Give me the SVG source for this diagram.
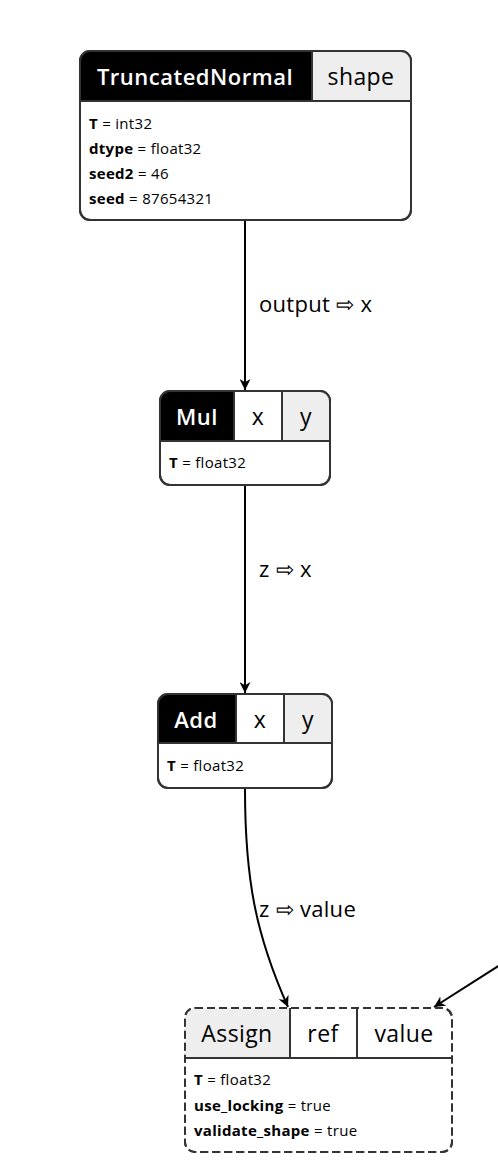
<svg xmlns="http://www.w3.org/2000/svg" width="498" height="1173" viewBox="0 0 498 1173">
<style>
.box{fill:#fff;stroke:#333;stroke-width:2}
.dash{stroke-dasharray:8,4}
.div{stroke:#333;stroke-width:2;fill:none}
.op{font-family:"Open Sans",sans-serif;font-size:22px;font-weight:600;fill:#fff;text-anchor:middle;letter-spacing:0.5px}
.opg{font-family:"Open Sans",sans-serif;font-size:23px;fill:#000;text-anchor:middle;letter-spacing:0.4px}
.port{font-family:"Open Sans",sans-serif;font-size:23px;fill:#000;text-anchor:middle;letter-spacing:0.4px}
.attr{font-family:"Open Sans",sans-serif;font-size:15px;fill:#000;letter-spacing:0.3px}
.attr tspan.k{font-weight:bold}
.lbl{font-family:"Open Sans",sans-serif;font-size:22px;fill:#000;letter-spacing:0.3px}
.edge{fill:none;stroke:#000;stroke-width:2}
</style>
<defs>
<marker id="arr" viewBox="0 0 10 10" refX="10" refY="5" markerWidth="11" markerHeight="11" orient="auto" markerUnits="userSpaceOnUse">
<path d="M0,0 L10,5 L0,10 L3,5 z" fill="#000"/>
</marker>
<clipPath id="c1"><rect x="80" y="51" width="331" height="169" rx="10"/></clipPath>
<clipPath id="c2"><rect x="160" y="391" width="170" height="94" rx="10"/></clipPath>
<clipPath id="c3"><rect x="158" y="694" width="174" height="94" rx="10"/></clipPath>
<clipPath id="c4"><rect x="185" y="1008" width="267" height="144" rx="10"/></clipPath>
</defs>

<g id="edges">
<path class="edge" d="M245,221 L245,390" marker-end="url(#arr)"/>
<text class="lbl" x="259" y="312">output ⇨ x</text>
<path class="edge" d="M245,486 L245,693" marker-end="url(#arr)"/>
<text class="lbl" x="259" y="577">z ⇨ x</text>
<path class="edge" d="M245,789 C245,880 256,935 288,1007" marker-end="url(#arr)"/>
<text class="lbl" x="259" y="917">z ⇨ value</text>
<path class="edge" d="M500,965 L434,1007" marker-end="url(#arr)"/>
</g>

<g id="TruncatedNormal">
<rect class="box" x="80" y="51" width="331" height="169" rx="10"/>
<g clip-path="url(#c1)">
<rect x="80" y="51" width="232" height="50" fill="#000"/>
<rect x="312" y="51" width="99" height="50" fill="#eee"/>
</g>
<path class="div" d="M312,51 V101 M80,101 H411"/>
<rect x="80" y="51" width="331" height="169" rx="10" fill="none" stroke="#333" stroke-width="2"/>
<text class="op" x="195" y="85">TruncatedNormal</text>
<text class="port" x="361" y="85">shape</text>
<text class="attr" x="89" y="129"><tspan class="k">T</tspan> = int32</text>
<text class="attr" x="89" y="154"><tspan class="k">dtype</tspan> = float32</text>
<text class="attr" x="89" y="179"><tspan class="k">seed2</tspan> = 46</text>
<text class="attr" x="89" y="204"><tspan class="k">seed</tspan> = 87654321</text>
</g>

<g id="Mul">
<rect class="box" x="160" y="391" width="170" height="94" rx="10"/>
<g clip-path="url(#c2)">
<rect x="160" y="391" width="74" height="50" fill="#000"/>
<rect x="282" y="391" width="48" height="50" fill="#eee"/>
</g>
<path class="div" d="M234,391 V441 M282,391 V441 M160,441 H330"/>
<rect x="160" y="391" width="170" height="94" rx="10" fill="none" stroke="#333" stroke-width="2"/>
<text class="op" x="197" y="425">Mul</text>
<text class="port" x="258" y="425">x</text>
<text class="port" x="306" y="425">y</text>
<text class="attr" x="169" y="468"><tspan class="k">T</tspan> = float32</text>
</g>

<g id="Add">
<rect class="box" x="158" y="694" width="174" height="94" rx="10"/>
<g clip-path="url(#c3)">
<rect x="158" y="694" width="78" height="49" fill="#000"/>
<rect x="284" y="694" width="48" height="49" fill="#eee"/>
</g>
<path class="div" d="M236,694 V743 M284,694 V743 M158,743 H332"/>
<rect x="158" y="694" width="174" height="94" rx="10" fill="none" stroke="#333" stroke-width="2"/>
<text class="op" x="196" y="728">Add</text>
<text class="port" x="260" y="728">x</text>
<text class="port" x="308" y="728">y</text>
<text class="attr" x="167" y="771"><tspan class="k">T</tspan> = float32</text>
</g>

<g id="Assign">
<rect class="box dash" x="185" y="1008" width="267" height="144" rx="10"/>
<g clip-path="url(#c4)">
<rect x="185" y="1008" width="105" height="50" fill="#eee"/>
</g>
<path class="div" d="M290,1008 V1058 M357,1008 V1058 M185,1058 H452"/>
<rect class="dash" x="185" y="1008" width="267" height="144" rx="10" fill="none" stroke="#333" stroke-width="2"/>
<text class="opg" x="237" y="1042">Assign</text>
<text class="port" x="323" y="1042">ref</text>
<text class="port" x="404" y="1042">value</text>
<text class="attr" x="194" y="1085"><tspan class="k">T</tspan> = float32</text>
<text class="attr" x="194" y="1111"><tspan class="k">use_locking</tspan> = true</text>
<text class="attr" x="194" y="1136"><tspan class="k">validate_shape</tspan> = true</text>
</g>
</svg>
